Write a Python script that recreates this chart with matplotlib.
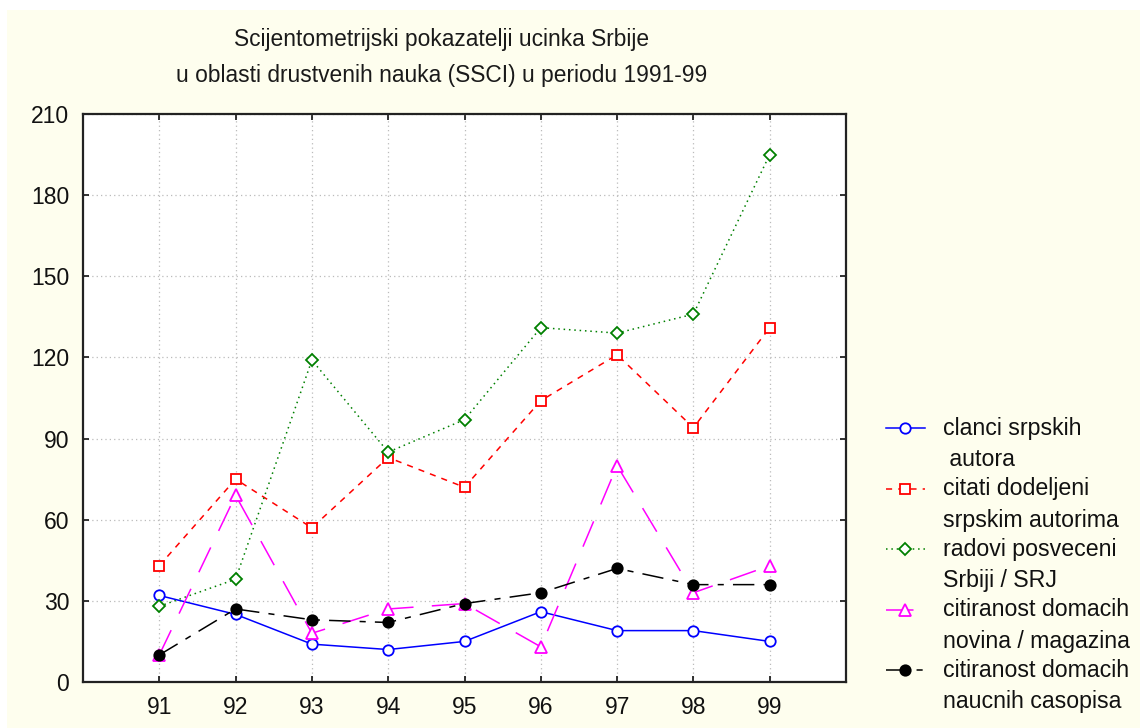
import matplotlib
matplotlib.use("Agg")
import matplotlib.pyplot as plt
from matplotlib.lines import Line2D
from matplotlib.patches import Rectangle

plt.rcParams['font.family'] = ['Liberation Sans', 'DejaVu Sans']

# data
years = [91, 92, 93, 94, 95, 96, 97, 98, 99]
clanci = [32, 25, 14, 12, 15, 26, 19, 19, 15]
citati = [43, 75, 57, 83, 72, 104, 121, 94, 131]
radovi = [28, 38, 119, 85, 97, 131, 129, 136, 195]
novine = [10, 69, 18, 27, 29, 13, 80, 33, 43]
casopisi = [10, 27, 23, 22, 29, 33, 42, 36, 36]

labels = ["clanci srpskih\n autora",
          "citati dodeljeni\nsrpskim autorima",
          "radovi posveceni\nSrbiji / SRJ",
          "citiranost domacih\nnovina / magazina",
          "citiranost domacih\nnaucnih casopisa"]
yticks = [0, 30, 60, 90, 120, 150, 180, 210]

styles = [
    dict(color="#0000FF", ls="-", marker="o", mfc="white", mec="#0000FF"),
    dict(color="#FF0000", ls=(0, (4, 4)), marker="s", mfc="white", mec="#FF0000"),
    dict(color="#008000", ls=(0, (1, 2.5)), marker="D", mfc="white", mec="#008000"),
    dict(color="#FF00FF", ls=(0, (18, 12)), marker="^", mfc="white", mec="#FF00FF"),
    dict(color="black", ls=(0, (14, 6, 4, 6)), marker="o", mfc="black", mec="black"),
]
series = [clanci, citati, radovi, novine, casopisi]

W, H = 1140, 728
fig = plt.figure(figsize=(11.4, 7.28), dpi=100, facecolor="white")
# cream panel, with a thin white strip on top and left like the original
fig.add_artist(Rectangle((7/W, 0), 1, 1 - 10/H, transform=fig.transFigure,
                         facecolor="#FEFEEE", edgecolor="none", zorder=-10))

ax = fig.add_axes([83/W, 1-682/H, 763/W, 568/H])
ax.set_facecolor("white")

sizes = [7.5, 7.5, 6.5, 8, 7.5]
for vals, st, ms in zip(series, styles, sizes):
    ax.plot(years, vals, color=st["color"], linestyle=st["ls"], linewidth=1.1,
            marker=st["marker"], markersize=ms, markerfacecolor=st["mfc"],
            markeredgecolor=st["mec"], markeredgewidth=1.3)

ax.set_xlim(90, 100)
ax.set_ylim(0, 210)
ax.set_xticks(years)
ax.set_xticklabels([str(y) for y in years])
ax.set_yticks(yticks)
ax.grid(True, color="#BBBBBB", linestyle=(0, (1, 2.5)), linewidth=0.9)
ax.tick_params(direction="in", top=True, right=True, length=4, width=1.2,
               labelsize=16.5, pad=10, colors="#111111")
for sp in ax.spines.values():
    sp.set_linewidth(1.6)
    sp.set_color("#222222")

fig.text(442/W, 1-57.5/H,
         "Scijentometrijski pokazatelji ucinka Srbije\nu oblasti drustvenih nauka (SSCI) u periodu 1991-99",
         ha="center", va="center", fontsize=16.4, linespacing=1.68, color="#1A1A1A")

# legend drawn by hand so the handle sits on the first text line
for i, (lab, st) in enumerate(zip(labels, styles)):
    y = 1 - (428 + i*60.5)/H
    fig.add_artist(Line2D([886/W, 925/W], [y, y], transform=fig.transFigure,
                          color=st["color"], linestyle=st["ls"], linewidth=1.1))
    fig.add_artist(Line2D([905/W], [y], transform=fig.transFigure,
                          marker=st["marker"], markersize=sizes[i],
                          markerfacecolor=st["mfc"], markeredgecolor=st["mec"],
                          markeredgewidth=1.3, linestyle="none"))
    fig.text(943/W, y + 11/H, lab, ha="left", va="top", fontsize=16.7,
             linespacing=1.45, color="#111111")

fig.savefig("out.png", dpi=100, facecolor=fig.get_facecolor())
